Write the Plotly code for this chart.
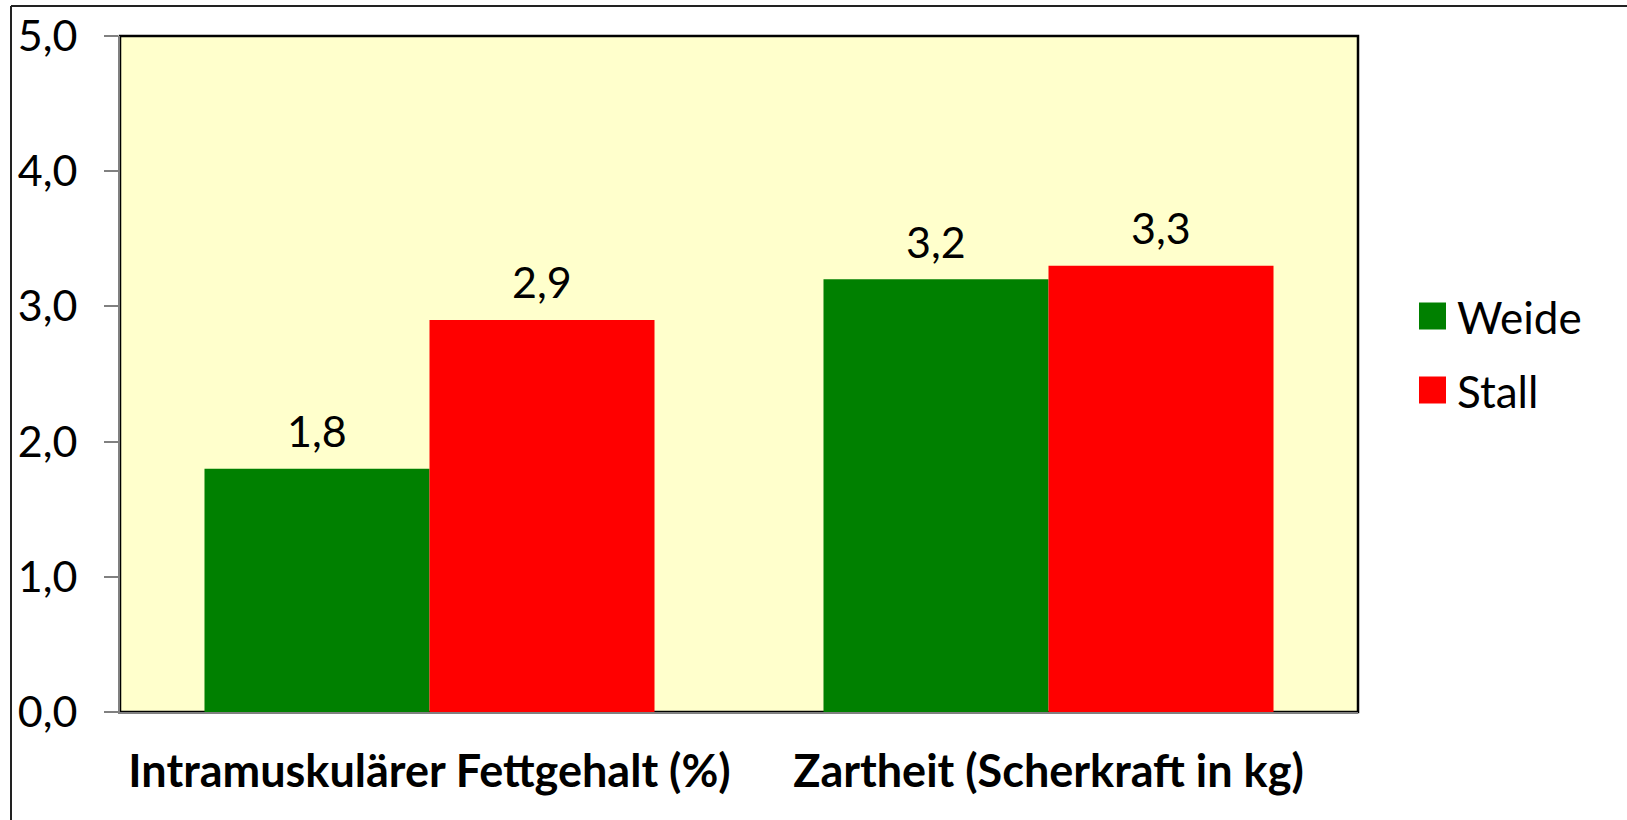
import plotly.graph_objects as go

categories = ["Intramuskulärer Fettgehalt (%)", "Zartheit (Scherkraft in kg)"]
series_names = ["Weide", "Stall"]
weide = [1.8, 3.2]
stall = [2.9, 3.3]
series_values = [weide, stall]
series_colors = ["#008000", "#FF0000"]
y_ticks = [0, 1, 2, 3, 4, 5]

W, H = 1627, 820
L, T, R, B = 120, 36, 269, 108
pw, ph = W - L - R, H - T - B
BARGAP = 0.273

def px_x(x):
    return (x - L) / pw

def px_y(y):
    return (H - B - y) / ph

FONT = "Lato, Carlito, 'Open Sans', sans-serif"

fig = go.Figure()
for name, vals, col in zip(series_names, series_values, series_colors):
    fig.add_trace(go.Bar(
        x=categories, y=vals, name=name,
        marker=dict(color=col, line=dict(width=0)),
        showlegend=False,
    ))

# data labels as annotations above each bar
bar_px = pw / len(categories) * (1 - BARGAP) / len(series_names)
annotations = []
for si, (vals, name) in enumerate(zip(series_values, series_names)):
    shift = (si - (len(series_names) - 1) / 2) * bar_px
    for cat, v in zip(categories, vals):
        annotations.append(dict(
            x=cat, y=v, xref="x", yref="y", xshift=shift, yshift=38,
            text=f"{v:.1f}".replace(".", ","), showarrow=False,
            xanchor="center", yanchor="middle",
            font=dict(size=43, color="#000000", family=FONT)))

shapes = [
    dict(type="rect", xref="paper", yref="paper", x0=0, x1=1, y0=0, y1=1,
         line=dict(color="#000000", width=2.5), layer="below"),
    dict(type="line", xref="paper", yref="paper", x0=px_x(11), x1=px_x(11),
         y0=px_y(6), y1=px_y(900), line=dict(color="#222222", width=2)),
    dict(type="line", xref="paper", yref="paper", x0=px_x(11), x1=px_x(1700),
         y0=px_y(6), y1=px_y(6), line=dict(color="#222222", width=2)),
]
legend_y = [316, 390]
for name, col, cy in zip(series_names, series_colors, legend_y):
    shapes.append(dict(type="rect", xref="paper", yref="paper",
                       x0=px_x(1419), x1=px_x(1446), y0=px_y(cy + 13.5), y1=px_y(cy - 13.5),
                       fillcolor=col, line=dict(width=0)))
    annotations.append(dict(xref="paper", yref="paper", x=px_x(1455), y=px_y(cy + 1),
                            text=name, showarrow=False, xanchor="left", yanchor="middle",
                            font=dict(size=44, color="#000000", family=FONT)))

fig.update_layout(
    width=W, height=H,
    margin=dict(l=L, r=R, t=T, b=B, pad=0, autoexpand=False),
    paper_bgcolor="#FFFFFF",
    plot_bgcolor="#FFFFCC",
    separators=", ",
    barmode="group",
    bargap=BARGAP,
    bargroupgap=0,
    shapes=shapes,
    annotations=annotations,
    showlegend=False,
    font=dict(family=FONT, color="#000000"),
)
fig.update_xaxes(
    automargin=False,
    showgrid=False, zeroline=False, showline=True, linecolor="#808080", linewidth=2,
    ticks="", tickfont=dict(size=45, family=FONT, color="#000000", weight="bold"),
    ticklabelstandoff=19,
)
fig.update_yaxes(
    automargin=False,
    range=[0, 5], tickvals=y_ticks, tickformat=".1f",
    showgrid=False, zeroline=False, showline=True, linecolor="#808080", linewidth=2,
    ticks="outside", ticklen=14, tickwidth=2, tickcolor="#808080",
    tickfont=dict(size=43, family=FONT, color="#000000"),
    ticklabelstandoff=18,
)

fig.write_html("out.html",
               config={"displayModeBar": False},
               post_script="document.body.style.margin='0';document.body.style.padding='0';")
